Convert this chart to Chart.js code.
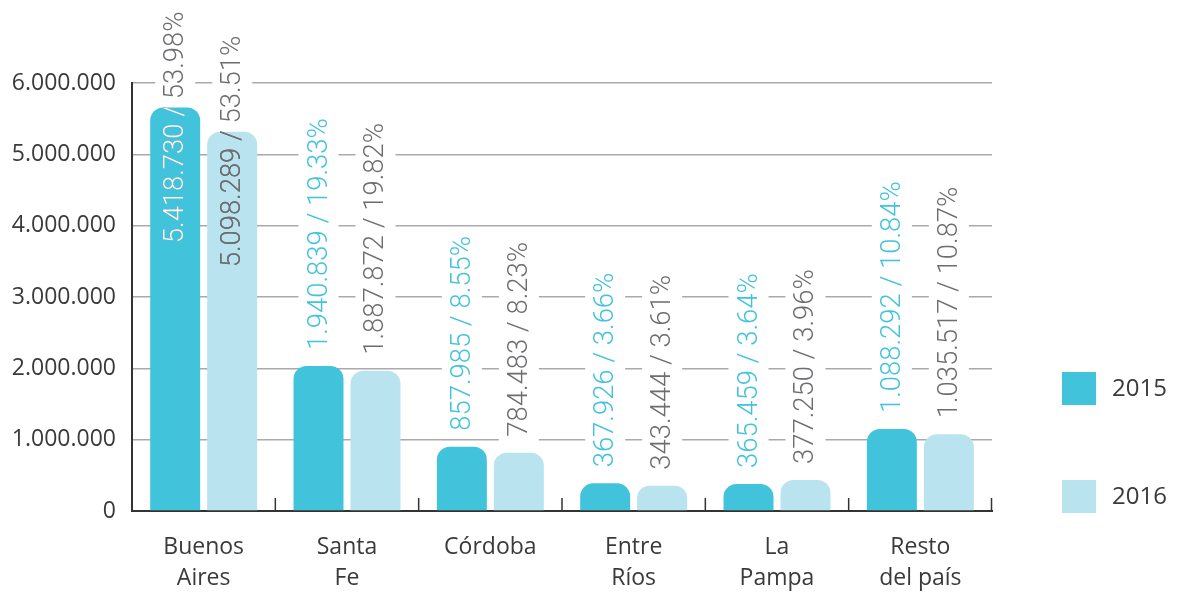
<!DOCTYPE html>
<html>
<head>
<meta charset="UTF-8">
<title>Provincias</title>
<script src="https://cdn.jsdelivr.net/npm/chart.js"></script>
<style>
  body { margin: 0; background: #fff; }
  #wrap { width: 1177px; height: 594px; }
</style>
</head>
<body>
<div id="wrap"><canvas id="chart" width="1177" height="594"></canvas></div>
<script>
const categories = [['Buenos', 'Aires'], ['Santa', 'Fe'], ['Córdoba'], ['Entre', 'Ríos'], ['La', 'Pampa'], ['Resto', 'del país']];
const seriesNames = ['2015', '2016'];
// bar heights
const values2015 = [5657000, 2033000, 901000, 388000, 379000, 1150000];
const values2016 = [5318000, 1967000, 817000, 355000, 435000, 1075000];
const labels2015 = ['5.418.730 / 53.98%', '1.940.839 / 19.33%', '857.985 / 8.55%', '367.926 / 3.66%', '365.459 / 3.64%', '1.088.292 / 10.84%'];
const labels2016 = ['5.098.289 / 53.51%', '1.887.872 / 19.82%', '784.483 / 8.23%', '343.444 / 3.61%', '377.250 / 3.96%', '1.035.517 / 10.87%'];
const yTicks = [0, 1000000, 2000000, 3000000, 4000000, 5000000, 6000000];

const CYAN = '#41c3db';
const LIGHT = '#b8e3ef';
const GRAY = '#6d6e71';
const DARK = '#3a3a3a';
const LABEL_FONT = '300 28px Roboto';
const LABEL_STRETCH = 0.98;

const labelSets = [labels2015, labels2016];
const labelColors = [CYAN, GRAY];
const insideColors = ['#ffffff', GRAY];

function dotted(v) {
  return String(v).replace(/\B(?=(\d{3})+(?!\d))/g, '.');
}

// where each rotated label starts/ends (y pixels)
function labelSpan(ctx, bar, text) {
  ctx.font = LABEL_FONT;
  const len = ctx.measureText(text).width * LABEL_STRETCH;
  let start = bar.y - 16;
  if (start - len < 5) {
    start = bar.y - 96 + len;
  }
  return { start, len };
}

const barLabels = {
  id: 'barLabels',
  beforeDatasetsDraw(chart) {
    const ctx = chart.ctx;
    ctx.save();
    ctx.fillStyle = '#ffffff';
    chart.data.datasets.forEach((ds, di) => {
      chart.getDatasetMeta(di).data.forEach((bar, i) => {
        const s = labelSpan(ctx, bar, labelSets[di][i]);
        ctx.fillRect(bar.x - 20, s.start - s.len - 6, 40, s.len + 12);
      });
    });
    ctx.restore();
  },
  afterDatasetsDraw(chart) {
    const ctx = chart.ctx;
    chart.data.datasets.forEach((ds, di) => {
      chart.getDatasetMeta(di).data.forEach((bar, i) => {
        const text = labelSets[di][i];
        const s = labelSpan(ctx, bar, text);
        const overlaps = s.start > bar.y;
        const draw = (color) => {
          ctx.save();
          ctx.translate(bar.x, s.start);
          ctx.rotate(-Math.PI / 2);
          ctx.scale(LABEL_STRETCH, 1);
          ctx.font = LABEL_FONT;
          ctx.fillStyle = color;
          ctx.textAlign = 'left';
          ctx.textBaseline = 'middle';
          ctx.fillText(text, 0, 1);
          ctx.restore();
        };
        if (!overlaps) {
          draw(labelColors[di]);
        } else {
          draw(GRAY);
          ctx.save();
          ctx.beginPath();
          ctx.rect(bar.x - bar.width / 2, bar.y, bar.width, bar.base - bar.y);
          ctx.clip();
          draw(insideColors[di]);
          ctx.restore();
        }
      });
    });
  }
};

const extras = {
  id: 'extras',
  afterDraw(chart) {
    const ctx = chart.ctx;
    const x = chart.scales.x;
    const area = chart.chartArea;
    ctx.save();
    // small upward ticks between categories
    ctx.strokeStyle = '#333';
    ctx.lineWidth = 1.5;
    for (let i = 0; i < categories.length; i++) {
      const px = i < categories.length - 1
        ? (x.getPixelForValue(i) + x.getPixelForValue(i + 1)) / 2
        : area.right - 0.5;
      ctx.beginPath();
      ctx.moveTo(px, area.bottom);
      ctx.lineTo(px, area.bottom - 13);
      ctx.stroke();
    }
    // legend
    ctx.font = '24px "Open Sans"';
    ctx.textBaseline = 'middle';
    ctx.textAlign = 'left';
    chart.data.datasets.forEach((ds, di) => {
      const top = 372 + di * 108;
      ctx.fillStyle = ds.backgroundColor;
      ctx.fillRect(area.right + 70, top, 34, 33);
      ctx.fillStyle = DARK;
      ctx.fillText(ds.label, area.right + 120, top + 17);
    });
    ctx.restore();
  }
};

new Chart(document.getElementById('chart'), {
  type: 'bar',
  data: {
    labels: categories,
    datasets: [
      { label: seriesNames[0], data: values2015, backgroundColor: CYAN },
      { label: seriesNames[1], data: values2016, backgroundColor: LIGHT }
    ]
  },
  options: {
    responsive: false,
    animation: false,
    layout: { padding: { top: 83, right: 185, bottom: 0, left: 0 } },
    datasets: {
      bar: {
        categoryPercentage: 0.795,
        barPercentage: 0.877,
        borderRadius: 13,
        borderSkipped: 'start'
      }
    },
    plugins: {
      legend: { display: false },
      tooltip: { enabled: false }
    },
    scales: {
      x: {
        afterFit: (s) => { s.height = 83; },
        grid: { display: false, drawTicks: false },
        border: { display: true, color: '#333', width: 2 },
        ticks: {
          color: DARK,
          padding: 21,
          font: { family: 'Open Sans', size: 23, lineHeight: 1.35 },
          maxRotation: 0
        }
      },
      y: {
        min: 0,
        max: 6000000,
        afterFit: (s) => { s.width = 132; },
        afterBuildTicks: (s) => { s.ticks = yTicks.map(v => ({ value: v })); },
        grid: { color: '#aaaaaa', lineWidth: 1.5, drawTicks: false },
        border: { display: true, color: '#333', width: 2 },
        ticks: {
          color: DARK,
          padding: 16,
          font: { family: 'Open Sans', size: 23 },
          callback: (v) => dotted(v)
        }
      }
    }
  },
  plugins: [barLabels, extras]
});
</script>
</body>
</html>
